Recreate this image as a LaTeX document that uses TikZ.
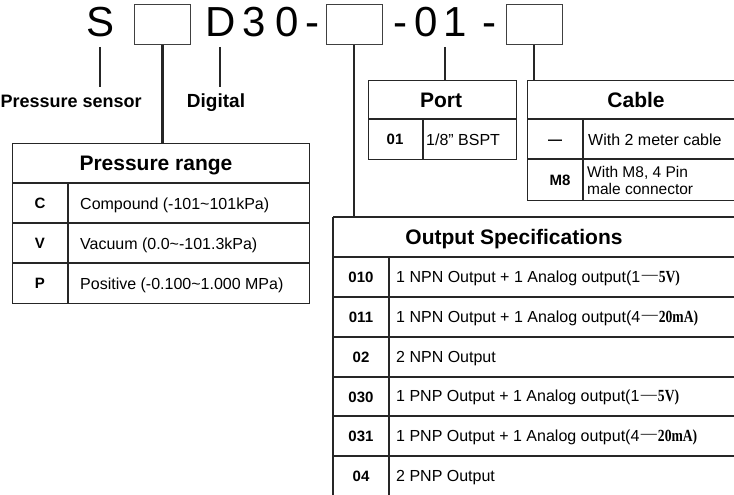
\documentclass[tikz,border=0pt]{standalone}
\usepackage{fontspec}
\usepackage{graphicx}
\setmainfont{Liberation Sans}
\newfontfamily\serifx{Liberation Serif}
\newcommand{\sdash}{{\kern1.5pt\serifx\raisebox{0.14em}{—}\kern1pt}}
\newcommand{\sser}[1]{{\serifx\bfseries\fontsize{17}{19}\selectfont\scalebox{0.8}[1]{#1}}}
\begin{document}
\begin{tikzpicture}[x=1pt,y=-1pt,
  conn/.style={line width=2.2pt, black!85},
  tbl/.style={line width=1.4pt, black!85},
  codebox/.style={draw=black!75, line width=1pt, minimum width=56pt, minimum height=40pt, inner sep=0},
  big/.style={font=\fontsize{42}{42}\selectfont, inner sep=0, anchor=base},
  lbl/.style={font=\bfseries\fontsize{19}{22}\selectfont, inner sep=0},
  hdr/.style={font=\bfseries\fontsize{21}{24}\selectfont, inner sep=0, anchor=base},
  code/.style={font=\bfseries\fontsize{15}{17}\selectfont, inner sep=0, anchor=base},
  txt/.style={font=\fontsize{16}{19}\selectfont, inner sep=0, anchor=base west},
  small/.style={font=\fontsize{15.5}{17}\selectfont, inner sep=0, anchor=west, align=left}
]
\useasboundingbox (0,0) rectangle (734,495);

% ---- top code line ----
\node[big] (S) at (101,37) {S};
\node[codebox] (b1) at (162.5,25) {};
\node[big] (D) at (221,37) {D};
\node[big] (n3) at (254,37) {3};
\node[big] (n0) at (287,37) {0};
\node[big] (h1) at (312,37) {-};
\node[codebox] (b2) at (354,25) {};
\node[big] (h2) at (400,37) {-};
\node[big] (p0) at (426.5,37) {0};
\node[big] (p1) at (455,37) {1};
\node[big] (h3) at (489,37) {-};
\node[codebox] (b3) at (534,25) {};

% ---- labels ----
\node[lbl, anchor=base west, font=\bfseries\fontsize{18}{22}\selectfont] (ps) at (0.5,107) {Pressure sensor};
\node[lbl, anchor=base] (dg) at (216,107) {Digital};
\coordinate (sT) at (100,47);
\coordinate (sB) at (100,87);
\coordinate (dT) at (220,47);
\coordinate (dB) at (220,87);
\coordinate (pT) at (445,47);
\draw[conn] (sT) -- (sB);
\draw[conn] (dT) -- (dB);

% ---- Pressure range table ----
\node[draw, tbl, anchor=north west, minimum width=297pt, minimum height=160pt, inner sep=0] (pr) at (12,143) {};
\draw[tbl] (12,183) -- (309,183);
\draw[tbl] (12,223) -- (309,223);
\draw[tbl] (12,263) -- (309,263);
\draw[tbl] (68,183) -- (68,303);
\node[hdr] (prh) at (156,170.5) {Pressure range};
\node[code] (cC) at (40,208.5) {C};
\node[code] (cV) at (40,248.5) {V};
\node[code] (cP) at (40,288.5) {P};
\node[txt] (tC) at (80,209) {Compound (-101\char"007E 101kPa)};
\node[txt] (tV) at (80,249) {Vacuum (0.0\char"007E -101.3kPa)};
\node[txt] (tP) at (80,289) {Positive (-0.100\char"007E 1.000 MPa)};
\draw[conn] (b1.south) -- (b1.south |- pr.north);

% ---- Port table ----
\node[draw, tbl, anchor=north west, minimum width=148pt, minimum height=79pt, inner sep=0] (port) at (368,80) {};
\draw[tbl] (368,119) -- (516,119);
\draw[tbl] (423,119) -- (423,159);
\node[hdr] (porth) at (441,107) {Port};
\node[code] (c01) at (395,144.5) {01};
\node[txt] (t01) at (426,145) {1/8" BSPT};
\draw[conn] (pT) -- (pT |- port.north);

% ---- Cable table ----
\node[draw, tbl, anchor=north west, minimum width=240pt, minimum height=120pt, inner sep=0] (cab) at (527,80) {};
\draw[tbl] (527,119) -- (767,119);
\draw[tbl] (527,159) -- (767,159);
\draw[tbl] (583,119) -- (583,200);
\node[hdr] (cabh) at (636,107) {Cable};
\node[font=\bfseries\fontsize{14}{16}\selectfont, inner sep=0, anchor=base] (cdash) at (555,144) {—};
\node[txt] (tcab) at (588,145) {With 2 meter cable};
\node[code] (cM8) at (560,185.5) {M8};
\node[small] (tM8) at (587,180) {With M8, 4 Pin\\male connector};
\draw[conn] (b3.south) -- (b3.south |- cab.north);

% ---- Output specifications table ----
\coordinate (osTL) at (333,217);
\coordinate (osBL) at (333,500);
\draw[tbl] (333,217) -- (767,217);
\draw[tbl] (osTL) -- (osBL);
\coordinate (os) at (354,217);
\draw[tbl] (333,257) -- (767,257);
\draw[tbl] (333,297) -- (767,297);
\draw[tbl] (333,337) -- (767,337);
\draw[tbl] (333,377) -- (767,377);
\draw[tbl] (333,416) -- (767,416);
\draw[tbl] (333,456) -- (767,456);
\draw[tbl] (389,257) -- (389,500);
\node[hdr] (osh) at (514,244.5) {Output Specifications};
\node[code] (o1) at (361,282.5) {010};
\node[code] (o2) at (361,322.5) {011};
\node[code] (o3) at (361,362.5) {02};
\node[code] (o4) at (361,402) {030};
\node[code] (o5) at (361,441.5) {031};
\node[code] (o6) at (361,481.5) {04};
\node[txt] (s1) at (396,282) {1 NPN Output + 1 Analog output(1\sdash\sser{5V)}};
\node[txt] (s2) at (396,322) {1 NPN Output + 1 Analog output(4\sdash\sser{20mA)}};
\node[txt] (s3) at (396,362) {2 NPN Output};
\node[txt] (s4) at (396,401.5) {1 PNP Output + 1 Analog output(1\sdash\sser{5V)}};
\node[txt] (s5) at (396,441) {1 PNP Output + 1 Analog output(4\sdash\sser{20mA)}};
\node[txt] (s6) at (396,481) {2 PNP Output};
\draw[conn] (b2.south) -- (b2.south |- os);
\end{tikzpicture}
\end{document}
